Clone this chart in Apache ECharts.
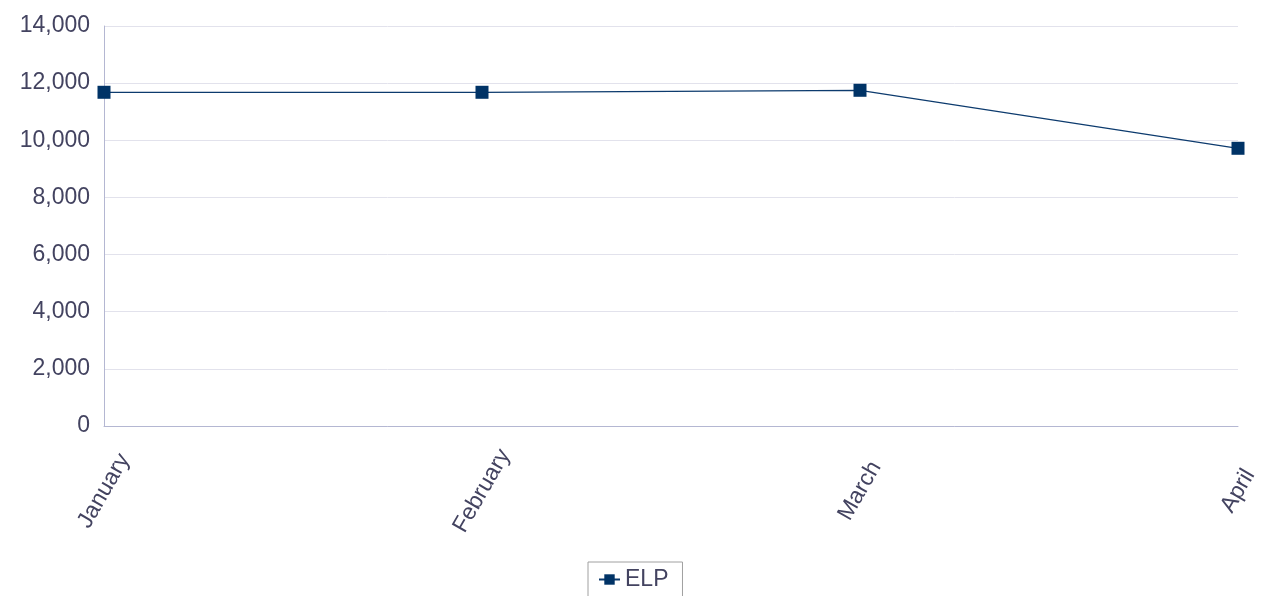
<!DOCTYPE html>
<html>
<head>
<meta charset="utf-8">
<script src="https://cdn.jsdelivr.net/npm/echarts@6/dist/echarts.min.js"></script>
<style>
html,body{margin:0;padding:0;background:#fff;}
#chart{width:1263px;height:596px;}
</style>
</head>
<body>
<div id="chart"></div>
<script>
const categories = ['January', 'February', 'March', 'April'];
const elpValues = [11680, 11680, 11750, 9720];
const seriesName = 'ELP';

const chart = echarts.init(document.getElementById('chart'));
const textColor = '#434360';
const font = '"Liberation Sans", Arial, sans-serif';
chart.setOption({
  animation: false,
  backgroundColor: '#ffffff',
  grid: { left: 104, right: 25, top: 26, bottom: 170, containLabel: false },
  legend: {
    data: [seriesName],
    left: 588,
    top: 562,
    orient: 'horizontal',
    padding: [6, 14, 8, 10],
    borderColor: '#a0a0a0',
    borderWidth: 1,
    itemWidth: 21,
    itemHeight: 13,
    itemGap: 6,
    textStyle: { color: textColor, fontSize: 23, fontFamily: font }
  },
  xAxis: {
    type: 'category',
    data: categories,
    boundaryGap: false,
    axisLine: { show: true, lineStyle: { color: '#b4b7d2', width: 1 } },
    axisTick: { show: false },
    splitLine: { show: false },
    axisLabel: {
      rotate: 60,
      align: 'center',
      verticalAlign: 'middle',
      margin: 65,
      color: textColor,
      fontSize: 23,
      fontFamily: font,
      interval: 0
    }
  },
  yAxis: {
    type: 'value',
    min: 0,
    max: 14000,
    interval: 2000,
    axisLine: { show: true, lineStyle: { color: '#b4b7d2', width: 1 } },
    axisTick: { show: false },
    splitLine: { show: true, lineStyle: { color: '#e2e2ec', width: 1 } },
    axisLabel: {
      margin: 14,
      color: textColor,
      fontSize: 23,
      fontFamily: font,
      formatter: function (v) { return v.toLocaleString('en-US'); }
    }
  },
  series: [{
    name: seriesName,
    type: 'line',
    data: elpValues,
    symbol: 'rect',
    symbolSize: 13,
    showAllSymbol: true,
    lineStyle: { color: '#0d3b6e', width: 1.2 },
    itemStyle: { color: '#003366', borderWidth: 0 }
  }]
});
</script>
</body>
</html>
